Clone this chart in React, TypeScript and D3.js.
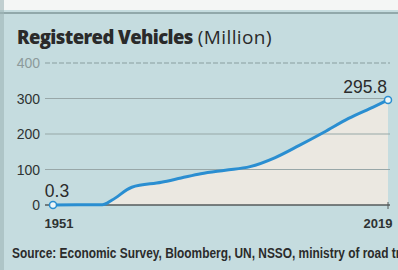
import { useEffect, useRef } from "react";
import * as d3 from "d3";

const years = [1951, 1961, 1963, 1967, 1973, 1977, 1981, 1986, 1991, 1996, 2001, 2006, 2011, 2016, 2019];
const vehicles = [0.3, 0.5, 14, 50, 64, 76, 88, 98, 108, 133, 168, 205, 244, 276, 295.8];
const yTicks = [0, 100, 200, 300, 400];
const xLabels = [1951, 2019];

const W = 398;
const H = 270;
const sans = "'Liberation Sans', Arial, sans-serif";

const App = () => {
  const ref = useRef<SVGSVGElement>(null);

  useEffect(() => {
    const svg = d3.select(ref.current);
    svg.selectAll("*").remove();

    const x = d3.scaleLinear().domain([1951, 2019]).range([53, 388]);
    const y = d3.scaleLinear().domain([0, 400]).range([205, 63]);
    const data = years.map((yr, i) => ({ yr, v: vehicles[i] }));

    // backdrop
    svg.append("rect").attr("width", W).attr("height", H).attr("fill", "#c5dcdf");
    svg.append("rect").attr("width", W).attr("height", 10).attr("fill", "#f4f6f5");
    svg.append("line").attr("x1", 0).attr("x2", W).attr("y1", 13).attr("y2", 13)
      .attr("stroke", "#7f9799").attr("stroke-width", 1.5);
    svg.append("rect").attr("width", 4).attr("height", H).attr("fill", "#9fb5b7").attr("opacity", 0.6);

    // title
    const title = svg.append("text").attr("x", 17).attr("y", 44)
      .attr("font-family", "'Open Sans', 'Noto Sans', sans-serif")
      .attr("fill", "#2a2a2a");
    title.append("tspan").attr("font-size", 18.5).attr("font-weight", 800).attr("letter-spacing", -0.6)
      .text("Registered Vehicles");
    title.append("tspan").attr("font-size", 19).attr("font-weight", 400).attr("dx", 5).attr("letter-spacing", 0.4)
      .text("(Million)");

    // area under line
    const area = d3.area<{ yr: number; v: number }>()
      .x((d) => x(d.yr)).y0(y(0)).y1((d) => y(d.v)).curve(d3.curveMonotoneX);
    svg.append("path").datum(data).attr("d", area).attr("fill", "#ebe8e1");

    // grid
    svg.append("g").selectAll("line").data(yTicks.filter((t) => t > 0)).join("line")
      .attr("x1", 45).attr("x2", 390)
      .attr("y1", (d) => y(d)).attr("y2", (d) => y(d))
      .attr("stroke", (d) => (d === 400 ? "#8a9ea0" : "#98a7a8"))
      .attr("stroke-width", 1.2)
      .attr("stroke-dasharray", (d) => (d === 400 ? "5,2" : null));

    svg.append("line").attr("x1", 45).attr("x2", 390).attr("y1", y(0)).attr("y2", y(0))
      .attr("stroke", "#555b5b").attr("stroke-width", 1.6);
    svg.append("line").attr("x1", 388).attr("x2", 388).attr("y1", y(0) - 3).attr("y2", y(0) + 4)
      .attr("stroke", "#555b5b").attr("stroke-width", 1);

    svg.append("g").selectAll("text").data(yTicks).join("text")
      .attr("x", 40).attr("y", (d) => y(d) + 5)
      .attr("text-anchor", "end")
      .attr("font-family", sans).attr("font-size", 14)
      .attr("fill", (d) => (d === 400 ? "#8c9a9b" : "#2e3333"))
      .text((d) => d);

    svg.append("g").selectAll("text").data(xLabels).join("text")
      .attr("x", (d) => x(d) + (d === 1951 ? 6 : -10)).attr("y", 228)
      .attr("text-anchor", "middle")
      .attr("font-family", sans).attr("font-size", 13).attr("font-weight", 700)
      .attr("fill", "#2e3333")
      .text((d) => d);

    // line
    const line = d3.line<{ yr: number; v: number }>()
      .x((d) => x(d.yr)).y((d) => y(d.v)).curve(d3.curveMonotoneX);
    svg.append("path").datum(data).attr("d", line)
      .attr("fill", "none").attr("stroke", "#2a8ed1").attr("stroke-width", 3);

    const ends = [data[0], data[data.length - 1]];
    svg.append("g").selectAll("circle").data(ends).join("circle")
      .attr("cx", (d) => x(d.yr)).attr("cy", (d) => y(d.v)).attr("r", 3.5)
      .attr("fill", "#eef6f8").attr("stroke", "#2a8ed1").attr("stroke-width", 1.5);

    svg.append("g").selectAll("text").data(ends).join("text")
      .attr("x", (d, i) => (i === 0 ? x(d.yr) + 4 : x(d.yr) - 1))
      .attr("y", (d, i) => (i === 0 ? 197 : 93))
      .attr("text-anchor", (d, i) => (i === 0 ? "middle" : "end"))
      .attr("font-family", sans).attr("font-size", 17.5)
      .attr("fill", "#2b2b2b")
      .text((d) => d.v);

    // source (runs off the right edge, as in the print)
    svg.append("text").attr("x", 12).attr("y", 258)
      .attr("font-family", sans).attr("font-size", 14).attr("font-weight", 700)
      .attr("fill", "#2b2b2b")
      .attr("textLength", 432).attr("lengthAdjust", "spacingAndGlyphs")
      .text("Source: Economic Survey, Bloomberg, UN, NSSO, ministry of road transport");
  }, []);

  return (
    <svg
      ref={ref}
      width={W}
      height={H}
      style={{ position: "absolute", left: 0, top: 0 }}
    />
  );
};

export default App;
